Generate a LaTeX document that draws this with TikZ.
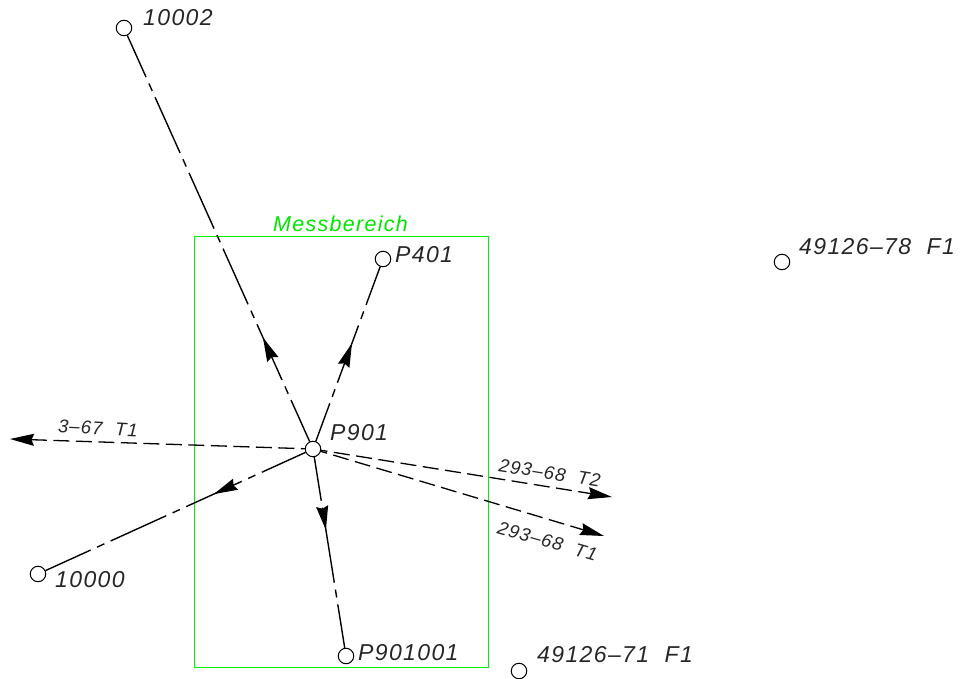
\documentclass[tikz,border=0pt]{standalone}
\usepackage{fontspec}
\setmainfont{Liberation Sans}
\usetikzlibrary{arrows.meta,decorations.markings}
\tikzset{
  station/.style={circle,draw=black,line width=1pt,fill=white,minimum size=15.5pt,inner sep=0pt},
  lbl/.style={inner sep=0pt,font=\fontsize{23}{25}\selectfont\itshape\addfontfeatures{LetterSpace=6},text=black!85},
  smalllbl/.style={inner sep=0pt,font=\fontsize{18.5}{20}\selectfont\itshape\addfontfeatures{LetterSpace=6},text=black!85},
  zonelbl/.style={inner sep=0pt,font=\fontsize{21.5}{24}\selectfont\itshape\addfontfeatures{LetterSpace=6},text=green!90!black},
  centerline/.style={line width=1.4pt,dash pattern=on 61pt off 7pt on 8pt off 7pt},
  obsline/.style={line width=1.3pt,dash pattern=on 16pt off 6.5pt},
  tipshape/.style={-{Stealth[length=24pt,width=12pt,inset=2.5pt]}},
  midarrow/.style={postaction={decorate,decoration={markings,mark=at position #1 with {\arrowreversed{Stealth[length=24pt,width=12pt,inset=2.5pt]}}}}},
}
\begin{document}
\begin{tikzpicture}[x=1pt,y=-1pt]
\useasboundingbox (0,0) rectangle (975,679);
\coordinate (tA) at (10,439);
\coordinate (tB) at (612,497);
\coordinate (tC) at (604,536);
\node[station] (p901) at (313,449) {};
\node[station] (n10002) at (124,28) {};
\node[station] (p401) at (383,259) {};
\node[station] (n10000) at (38,574) {};
\node[station] (p901001) at (346,656) {};
\node[station] (f71) at (519,671) {};
\node[station] (f78) at (782,262) {};
\draw[draw=green!95!black,line width=0.9pt] (194,236) rectangle (488,667);
\draw[centerline,dash phase=15.4pt,midarrow=331pt] (n10002) -- (p901);
\draw[centerline,dash phase=20.4pt,midarrow=81.5pt] (p401) -- (p901);
\draw[centerline,dash phase=11.4pt,midarrow=184.8pt] (n10000) -- (p901);
\draw[centerline,dash phase=17pt,midarrow=119.4pt] (p901001) -- (p901);
\draw[obsline,tipshape,dash phase=12pt] (p901) -- (tA);
\draw[obsline,tipshape,dash phase=9.6pt] (p901) -- (tB);
\draw[obsline,tipshape,dash phase=9.6pt] (p901) -- (tC);
\node[lbl,anchor=west] (t1) at (143,18) {10002};
\node[lbl,anchor=west] (t2) at (395,255) {P401};
\node[lbl,anchor=west] (t3) at (330,433) {P901};
\node[lbl,anchor=west] (t4) at (55,580) {10000};
\node[lbl,anchor=west] (t5) at (358,653) {P901001};
\node[lbl,anchor=west] (t6) at (537,655) {49126–71\ \ F1};
\node[lbl,anchor=west] (t7) at (799,247) {49126–78\ \ F1};
\node[zonelbl,anchor=west] (t8) at (273,224) {Messbereich};
\node[smalllbl,anchor=west,rotate=-3] (t9) at (58,426) {3–67\ \ T1};
\node[smalllbl,anchor=west,rotate=-9] (t10) at (499,465) {293–68\ \ T2};
\node[smalllbl,anchor=west,rotate=-16] (t11) at (498,527) {293–68\ \ T1};
\end{tikzpicture}
\end{document}
